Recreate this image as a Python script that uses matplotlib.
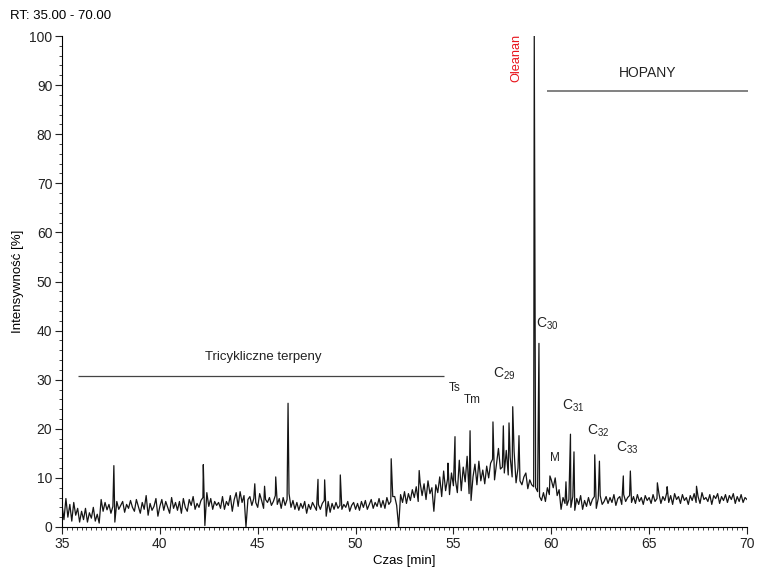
import numpy as np
import matplotlib
matplotlib.use('Agg')
import matplotlib.pyplot as plt
from matplotlib.ticker import MultipleLocator

plt.rcParams['font.family'] = ['Liberation Sans', 'DejaVu Sans']
plt.rcParams['mathtext.fontset'] = 'custom'
plt.rcParams['mathtext.rm'] = 'Liberation Sans'
plt.rcParams['mathtext.it'] = 'Liberation Sans'

# baseline / noise of the TIC trace, read every 0.1 min from 35.0 to 70.0
base = [
    4.5, 1.5, 5.8, 2.0, 4.6, 1.2, 5.0, 2.4, 3.8, 1.0,    # 35
    3.2, 1.5, 3.8, 1.0, 2.9, 1.8, 4.0, 1.2, 2.6, 0.8,    # 36
    5.6, 3.2, 5.0, 3.5, 4.6, 2.8, 4.2, 1.0, 5.2, 3.6,    # 37
    4.4, 5.2, 3.0, 4.6, 3.8, 5.4, 4.0, 3.2, 5.6, 4.2,    # 38
    2.8, 5.0, 3.6, 6.4, 2.4, 4.8, 3.4, 4.2, 5.8, 2.2,    # 39
    4.2, 5.6, 3.4, 5.2, 4.0, 2.8, 6.0, 3.8, 5.0, 3.4,    # 40
    5.2, 2.8, 5.8, 4.0, 3.2, 5.6, 4.4, 6.2, 3.6, 4.8,    # 41
    4.0, 5.4, 6.0, 0.3, 7.0, 4.2, 5.8, 3.6, 5.2, 4.4,    # 42
    5.0, 3.8, 6.2, 3.6, 5.2, 4.4, 6.4, 3.2, 5.6, 7.0,    # 43
    4.2, 7.2, 5.0, 6.4, 0.0, 5.6, 6.2, 4.4, 5.8, 5.0,    # 44
    4.0, 6.8, 5.4, 3.8, 5.6, 5.0, 6.0, 4.4, 5.2, 6.4,    # 45
    4.6, 5.8, 3.8, 6.0, 4.4, 5.6, 6.8, 4.0, 5.4, 3.6,    # 46
    5.0, 3.4, 4.8, 3.8, 5.2, 2.8, 4.6, 3.6, 5.0, 4.2,    # 47
    3.4, 4.6, 3.6, 4.8, 5.4, 2.2, 5.2, 3.0, 4.8, 3.6,    # 48
    5.0, 3.8, 4.4, 3.6, 4.6, 4.0, 5.2, 3.2, 4.4, 5.0,    # 49
    3.6, 4.8, 3.4, 5.2, 4.0, 5.4, 3.6, 4.6, 5.6, 3.8,    # 50
    5.0, 4.2, 5.8, 4.0, 5.4, 3.8, 6.0, 4.6, 5.2, 6.2,    # 51
    6.2, 4.4, 0.0, 6.6, 5.0, 7.2, 4.8, 6.8, 5.4, 7.6,    # 52
    6.0, 8.2, 5.2, 9.0, 6.4, 8.8, 5.6, 9.4, 6.8, 8.0,    # 53
    3.2, 8.6, 7.0, 10.2, 6.2, 11.4, 7.4, 9.8, 6.6, 11.0,  # 54
    8.4, 9.6, 7.0, 13.6, 7.4, 12.2, 9.2, 14.4, 6.8, 5.4,  # 55
    10.2, 12.8, 8.6, 13.4, 9.4, 11.6, 8.8, 12.4, 10.0, 13.0,  # 56
    13.8, 9.6, 12.8, 16.0, 11.8, 12.2, 11.0, 15.6, 10.6, 14.2,  # 57
    10.2, 15.4, 9.0, 12.0, 9.4, 8.6, 10.2, 11.0, 7.8, 9.6,  # 58
    8.6, 8.2, 8.0, 7.2, 6.2, 5.4, 7.0, 5.2, 8.0, 6.6,    # 59
    9.6, 8.0, 10.0, 6.4, 7.6, 3.6, 6.0, 4.8, 4.4, 5.6,   # 60
    4.0, 6.2, 3.4, 5.8, 4.6, 6.4, 3.6, 5.4, 4.2, 6.0,    # 61
    4.4, 5.6, 6.2, 3.8, 5.8, 6.4, 4.6, 5.2, 6.2, 4.8,    # 62
    6.0, 5.0, 6.6, 4.4, 5.8, 6.2, 4.6, 6.6, 5.2, 6.0,    # 63
    6.4, 5.0, 6.2, 4.8, 6.6, 5.2, 6.0, 4.6, 6.4, 5.4,    # 64
    6.0, 4.8, 6.6, 5.2, 5.8, 6.8, 4.8, 6.2, 5.4, 7.0,    # 65
    5.0, 6.4, 4.6, 6.8, 5.6, 6.2, 4.8, 6.6, 5.4, 6.0,    # 66
    4.6, 6.4, 5.4, 6.8, 5.0, 6.2, 4.8, 7.0, 5.6, 6.0,    # 67
    5.2, 6.6, 4.6, 6.4, 5.8, 6.8, 4.8, 6.2, 5.4, 6.6,    # 68
    5.0, 6.4, 5.6, 6.8, 4.8, 6.2, 5.2, 6.6, 5.0, 6.0,    # 69
    5.6,                                                 # 70
]

# sharp peaks (retention time [min], intensity [%])
peak_t = [37.65, 42.22, 44.85, 45.35, 45.92, 46.55, 48.08, 48.42, 49.22, 51.82,
          53.25, 54.72, 55.08, 55.85, 57.02, 57.55, 57.84, 58.03, 58.35,
          59.13, 59.37, 59.93, 60.75, 60.98, 61.16, 62.22, 62.46, 63.68, 64.04,
          65.42, 65.92, 67.42]
peak_h = [12.5, 12.7, 8.8, 8.3, 10.2, 25.2, 9.7, 9.6, 10.6, 13.9,
          11.5, 13.0, 18.4, 19.6, 21.4, 20.6, 21.2, 24.5, 18.6,
          100.0, 37.4, 10.4, 9.2, 18.9, 15.3, 14.7, 13.4, 10.4, 11.4,
          9.0, 8.2, 8.3]

t_base = np.round(np.linspace(35.0, 70.0, len(base)), 2)
t_all = np.concatenate([t_base, peak_t])
y_all = np.concatenate([base, peak_h])
order = np.argsort(t_all)
t_all, y_all = t_all[order], y_all[order]

fig = plt.figure(figsize=(7.61, 5.72), dpi=100)
ax = fig.add_axes([62 / 761, 1 - 527 / 572, 685 / 761, 491 / 572])

ax.plot(t_all, y_all, color='#151515', lw=0.9)

ax.set_xlim(35, 70)
ax.set_ylim(0, 100)
for s in ['top', 'right']:
    ax.spines[s].set_visible(False)
for s in ['left', 'bottom']:
    ax.spines[s].set_linewidth(0.8)

ax.xaxis.set_major_locator(MultipleLocator(5))
ax.xaxis.set_minor_locator(MultipleLocator(0.25))
ax.yaxis.set_major_locator(MultipleLocator(10))
ax.yaxis.set_minor_locator(MultipleLocator(2))
ax.tick_params(which='major', length=5, width=0.8, labelsize=10, pad=2, colors='#222')
ax.tick_params(which='minor', length=2.5, width=0.6, colors='#222')

ax.set_xlabel('Czas [min]', fontsize=9.5, labelpad=3)
ax.set_ylabel('Intensywność [%]', fontsize=9.5, labelpad=4)

fig.text(10 / 761, 1 - 16 / 572, 'RT: 35.00 - 70.00', fontsize=9.5, va='center', ha='left')

# group bars and labels
ax.hlines(30.75, 35.82, 54.52, color='#444', lw=0.9)
ax.text(45.27, 34.6, 'Tricykliczne terpeny', fontsize=9.5, ha='center', va='center', color='#222')
ax.hlines(88.8, 59.78, 70.05, color='#777', lw=1.3, clip_on=False)
ax.text(64.9, 92.5, 'HOPANY', fontsize=10, ha='center', va='center', color='#222')
ax.text(58.22, 95.6, 'Oleanan', fontsize=9.2, rotation=90, ha='center', va='center', color='#e8141c')

ax.text(55.08, 28.3, 'Ts', fontsize=8.5, ha='center', va='center', color='#222')
ax.text(55.95, 25.9, 'Tm', fontsize=8.5, ha='center', va='center', color='#222')
ax.text(60.19, 14.0, 'M', fontsize=8.5, ha='center', va='center', color='#222')

hopane_labels = ['C$_{29}$', 'C$_{30}$', 'C$_{31}$', 'C$_{32}$', 'C$_{33}$']
hopane_x = [57.02, 59.22, 60.55, 61.83, 63.31]
hopane_y = [31.2, 41.4, 24.7, 19.6, 16.1]
for lab, x, y in zip(hopane_labels, hopane_x, hopane_y):
    ax.text(x, y, lab, fontsize=10, ha='left', va='center', color='#222')

fig.savefig('out.png', dpi=100)
